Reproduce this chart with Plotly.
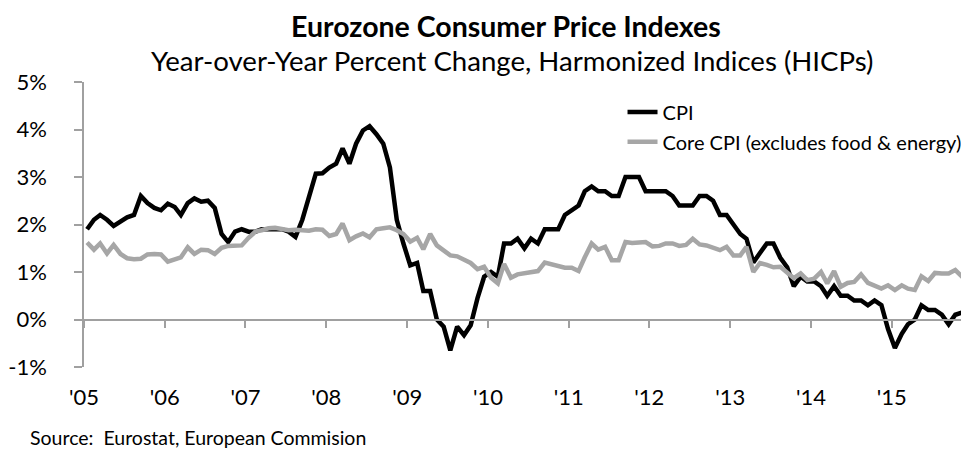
import pandas as pd
import plotly.graph_objects as go

# ---- data -------------------------------------------------------------
months = pd.date_range("2005-01-01", "2015-12-01", freq="MS")

cpi = [
    1.9, 2.1, 2.2, 2.1, 1.97, 2.05, 2.15, 2.2, 2.6, 2.45, 2.35, 2.3,      # 2005
    2.44, 2.37, 2.2, 2.45, 2.55, 2.48, 2.5, 2.35, 1.8, 1.63, 1.85, 1.9,   # 2006
    1.85, 1.85, 1.9, 1.9, 1.9, 1.9, 1.85, 1.74, 2.1, 2.6, 3.07, 3.08,     # 2007
    3.2, 3.28, 3.6, 3.28, 3.7, 3.98, 4.07, 3.9, 3.7, 3.2, 2.1, 1.6,       # 2008
    1.14, 1.19, 0.6, 0.6, 0.0, -0.15, -0.65, -0.15, -0.33, -0.12, 0.45, 0.9,  # 2009
    1.0, 0.9, 1.6, 1.6, 1.7, 1.5, 1.7, 1.6, 1.9, 1.9, 1.9, 2.2,           # 2010
    2.3, 2.4, 2.7, 2.8, 2.7, 2.7, 2.6, 2.6, 3.0, 3.0, 3.0, 2.7,           # 2011
    2.7, 2.7, 2.7, 2.6, 2.4, 2.4, 2.4, 2.6, 2.6, 2.5, 2.2, 2.2,           # 2012
    2.0, 1.8, 1.7, 1.2, 1.4, 1.6, 1.6, 1.3, 1.1, 0.7, 0.9, 0.8,           # 2013
    0.8, 0.7, 0.5, 0.7, 0.5, 0.5, 0.4, 0.4, 0.3, 0.4, 0.3, -0.2,          # 2014
    -0.6, -0.3, -0.1, 0.0, 0.3, 0.2, 0.2, 0.1, -0.1, 0.1, 0.15, 0.22,     # 2015
]

core = [
    1.62, 1.47, 1.60, 1.39, 1.57, 1.38, 1.29, 1.27, 1.28, 1.37, 1.38, 1.37,  # 2005
    1.22, 1.27, 1.31, 1.52, 1.38, 1.47, 1.46, 1.38, 1.51, 1.55, 1.55, 1.56,  # 2006
    1.72, 1.85, 1.88, 1.92, 1.93, 1.90, 1.88, 1.89, 1.88, 1.87, 1.90, 1.89,  # 2007
    1.76, 1.80, 2.02, 1.67, 1.75, 1.81, 1.73, 1.90, 1.92, 1.94, 1.88, 1.80,  # 2008
    1.64, 1.72, 1.48, 1.80, 1.56, 1.45, 1.35, 1.33, 1.25, 1.19, 1.06, 1.11,  # 2009
    0.88, 0.76, 1.17, 0.88, 0.95, 0.98, 1.00, 1.02, 1.20, 1.16, 1.13, 1.09,  # 2010
    1.09, 1.02, 1.31, 1.60, 1.47, 1.53, 1.25, 1.25, 1.63, 1.61, 1.62, 1.63,  # 2011
    1.54, 1.55, 1.60, 1.60, 1.55, 1.57, 1.70, 1.58, 1.56, 1.52, 1.46, 1.53,  # 2012
    1.35, 1.35, 1.53, 1.00, 1.19, 1.15, 1.10, 1.11, 1.00, 0.87, 0.97, 0.83,  # 2013
    0.86, 1.00, 0.76, 1.02, 0.69, 0.77, 0.79, 0.95, 0.77, 0.72, 0.65, 0.72,  # 2014
    0.62, 0.72, 0.65, 0.62, 0.91, 0.81, 0.98, 0.97, 0.97, 1.04, 0.90, 0.88,  # 2015
]

year_ticks = pd.date_range("2005-01-01", "2015-01-01", freq="YS")
year_labels = ["'05", "'06", "'07", "'08", "'09", "'10", "'11", "'12", "'13", "'14", "'15"]
y_ticks = [-1, 0, 1, 2, 3, 4, 5]
y_labels = ["-1%", "0%", "1%", "2%", "3%", "4%", "5%"]

series_names = ["CPI", "Core CPI (excludes food & energy)"]

# ---- figure -----------------------------------------------------------
FONT = "Lato"
AXIS_COLOR = "#a0a0a0"
x_pts = months + pd.Timedelta(days=14)   # points sit mid-month

fig = go.Figure()
fig.add_trace(go.Scatter(x=x_pts, y=cpi, name=series_names[0], mode="lines",
                         line=dict(color="#000000", width=4.5), legend="legend"))
fig.add_trace(go.Scatter(x=x_pts, y=core, name=series_names[1], mode="lines",
                         line=dict(color="#a6a6a6", width=4.5), legend="legend2"))
# helper (invisible) trace so the label axis is rendered
fig.add_trace(go.Scatter(x=[x_pts[0]], y=[None], xaxis="x2", mode="lines",
                         showlegend=False, hoverinfo="skip"))

xrange = ["2005-01-01", "2015-12-16"]

# page body has an 8px margin: figure is 961x441 and placed at (8, 8)
fig.update_layout(
    width=961, height=441,
    margin=dict(l=67, r=0, t=74, b=82),
    paper_bgcolor="white", plot_bgcolor="white",
    font=dict(family=FONT, color="#000000"),
    xaxis=dict(
        type="date", range=xrange, anchor="free", position=1/6,
        showline=True, linecolor=AXIS_COLOR, linewidth=1.5,
        ticks="outside", ticklen=8, tickcolor=AXIS_COLOR, tickwidth=1.5,
        tickvals=list(year_ticks), showticklabels=False,
        showgrid=False, zeroline=False,
    ),
    xaxis2=dict(
        type="date", range=xrange, overlaying="x", anchor="y", side="bottom",
        showline=False, ticks="", tickvals=list(year_ticks), ticktext=year_labels,
        ticklabelstandoff=15, tickfont=dict(size=22, family=FONT),
        showgrid=False, zeroline=False,
    ),
    yaxis=dict(
        range=[-1, 5], tickvals=y_ticks, ticktext=y_labels,
        showline=True, linecolor=AXIS_COLOR, linewidth=1.5,
        ticks="outside", ticklen=8, tickcolor=AXIS_COLOR, tickwidth=1.5,
        ticklabelstandoff=23, tickfont=dict(size=22, family=FONT),
        showgrid=False, zeroline=False,
    ),
    legend=dict(x=0.6085, y=0.895, xanchor="left", yanchor="middle",
                font=dict(size=20, family=FONT), bgcolor="rgba(0,0,0,0)"),
    legend2=dict(x=0.6085, y=0.79, xanchor="left", yanchor="middle",
                 font=dict(size=20, family=FONT), bgcolor="rgba(0,0,0,0)"),
    annotations=[
        dict(text="<b>Eurozone Consumer Price Indexes</b>", xref="paper", yref="paper",
             x=0.4765, y=359/285, xanchor="center", yanchor="top", showarrow=False,
             font=dict(size=28.5, family=FONT), borderpad=0),
        dict(text="Year-over-Year Percent Change, Harmonized Indices (HICPs)",
             xref="paper", yref="paper", x=0.4832, y=1.0737, xanchor="center",
             yanchor="middle", showarrow=False, font=dict(size=27.6, family=FONT)),
        dict(text="Source:  Eurostat, European Commision", xref="paper", yref="paper",
             x=-0.0638, y=-0.249, xanchor="left", yanchor="middle", showarrow=False,
             font=dict(size=19.5, family=FONT)),
    ],
)

fig.write_html("out.html")
